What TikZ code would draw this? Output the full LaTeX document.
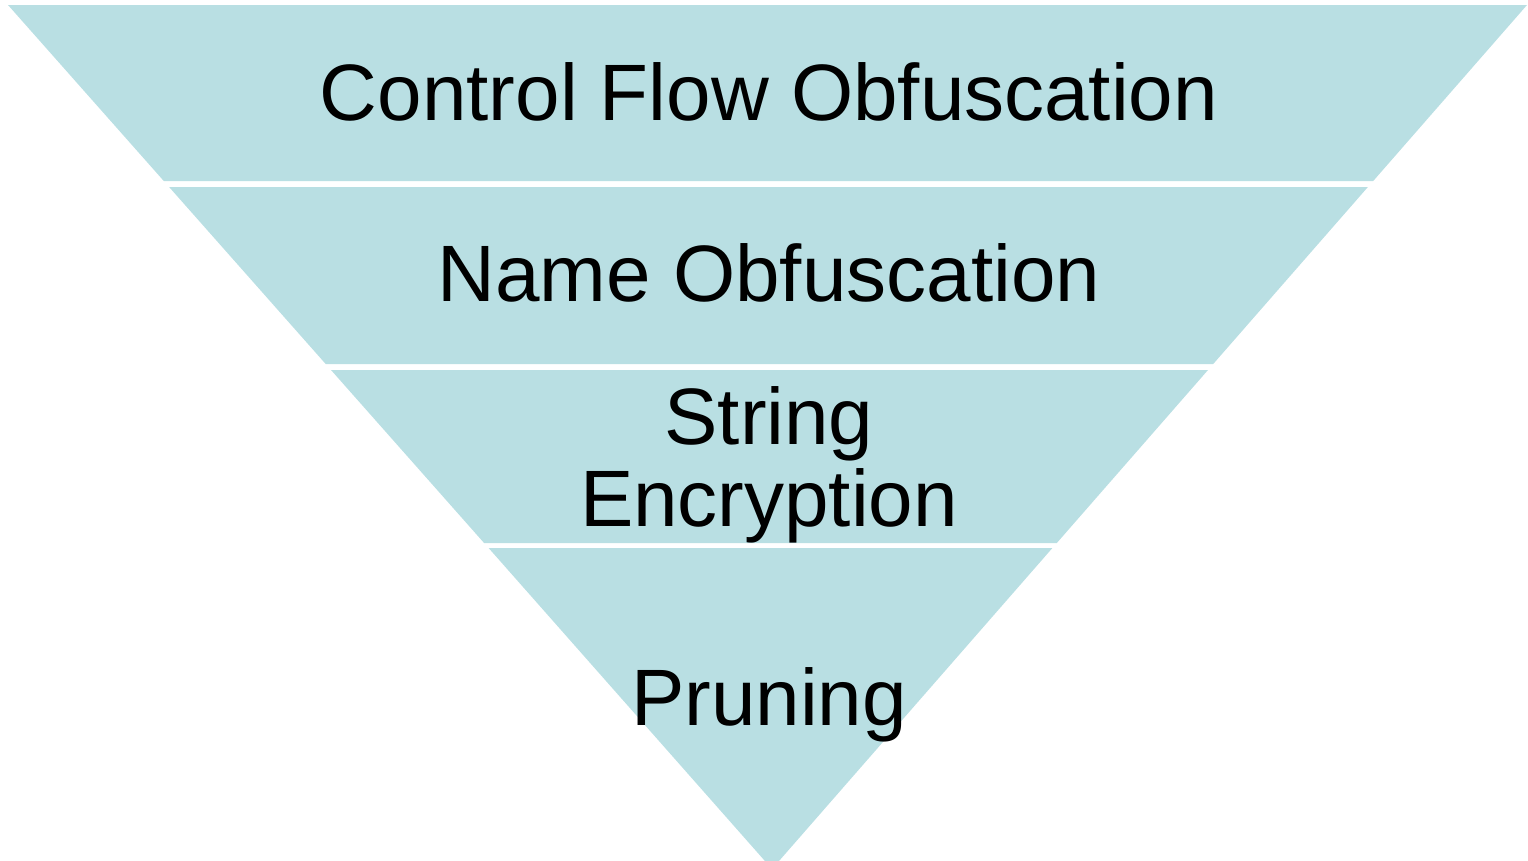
\documentclass[tikz,border=0pt]{standalone}
\usepackage{fontspec}
\setmainfont{Liberation Sans}
\definecolor{layerfill}{RGB}{185,223,227}
\begin{document}
\begin{tikzpicture}[x=1pt,y=-1pt,
    layer/.style={fill=layerfill,draw=none},
    layertext/.style={font=\fontsize{80}{82}\selectfont,text=black,inner sep=0pt,align=center}]
  \useasboundingbox (0,0) rectangle (1528,860);
  % the four layers of the funnel, top to bottom
  \fill[layer] (8,5) -- (1527,5) -- (1373.2,181) -- (163.8,181) -- cycle;
  \fill[layer] (169.1,187) -- (1367.9,187) -- (1213.2,364) -- (325.7,364) -- cycle;
  \fill[layer] (331.0,370) -- (1208.0,370) -- (1056.8,543) -- (484.1,543) -- cycle;
  \fill[layer] (488.6,548) -- (1052.4,548) -- (772,869) -- cycle;
  % texts
  \node[layertext,anchor=base] (cfo) at (769,120) {Control Flow Obfuscation};
  \node[layertext,anchor=base] (name) at (769,301) {Name Obfuscation};
  \node[layertext,anchor=center] (str) at (769,465) {String\\Encryption};
  \node[layertext,anchor=base] (prune) at (769,725) {Pruning};
\end{tikzpicture}
\end{document}
